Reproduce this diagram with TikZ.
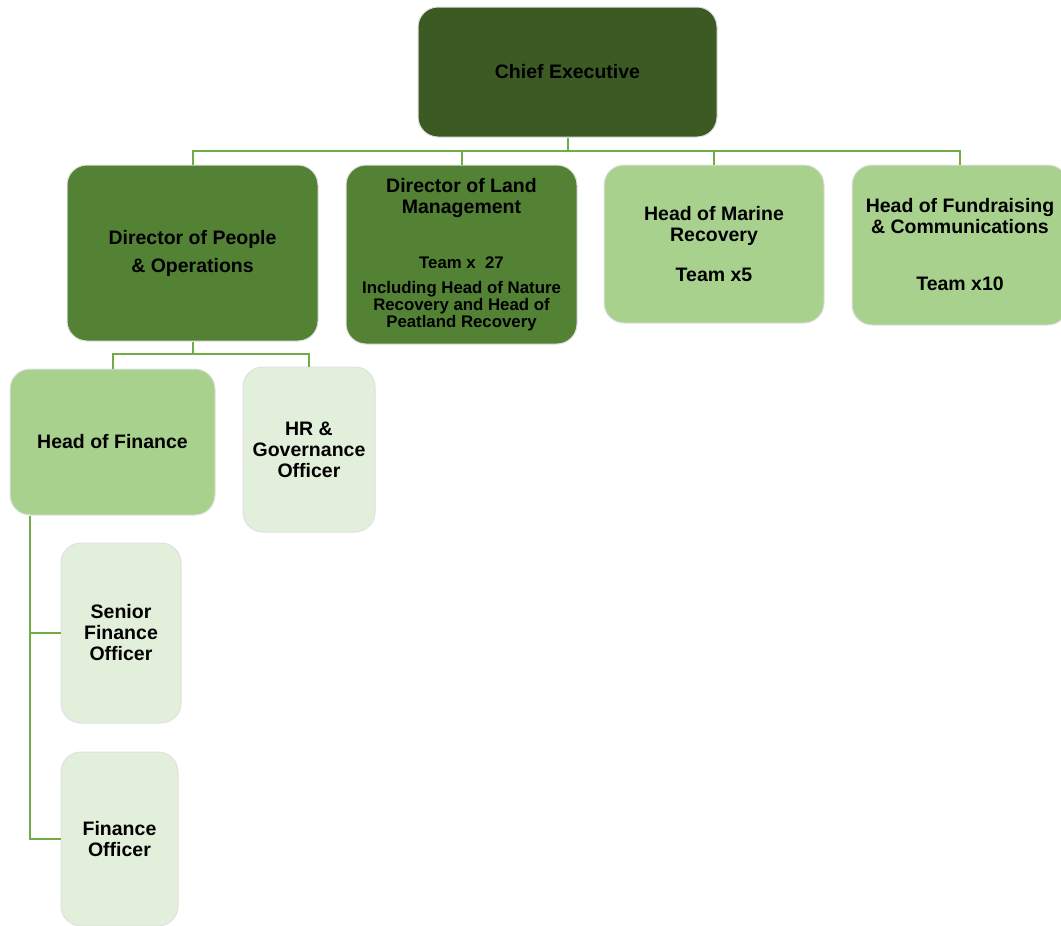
\documentclass[tikz,border=0pt]{standalone}
\usepackage{fontspec}
\setmainfont{Liberation Sans}
\definecolor{cedark}{RGB}{59,90,36}
\definecolor{dirgreen}{RGB}{84,130,53}
\definecolor{headgreen}{RGB}{169,209,142}
\definecolor{palegreen}{RGB}{226,239,218}
\definecolor{linegreen}{RGB}{112,173,71}
\tikzset{
  box/.style={rectangle, rounded corners=20pt, draw=black!12, line width=1pt,
    align=center, inner sep=0pt, font=\bfseries\fontsize{19.5}{21}\selectfont},
  link/.style={draw=linegreen, line width=2pt}
}
\newcommand{\smalltxt}{\fontsize{16.8}{17}\selectfont}
\begin{document}
\begin{tikzpicture}[x=1pt,y=-1pt]
    \useasboundingbox (0,0) rectangle (1061,926);

    % top level
    \node[box, fill=cedark, minimum width=299pt, minimum height=130pt] (ce) at (567.5,72) {Chief Executive};

    % second row
    \node[box, fill=dirgreen, minimum width=251pt, minimum height=176pt] (dpo) at (192.5,253)
        {Director of People\\[7pt] \& Operations};
    \node[box, fill=dirgreen, minimum width=231pt, minimum height=179pt] (dlm) at (461.5,254.5)
        {Director of Land\\Management\\[34pt] {\smalltxt Team x\ \ 27}\\[4pt]
         {\smalltxt Including Head of Nature}\\[-4pt] {\smalltxt Recovery and Head of}\\[-4pt] {\smalltxt Peatland Recovery}};
    \node[box, fill=headgreen, minimum width=220pt, minimum height=158pt] (hmr) at (714,244)
        {Head of Marine\\Recovery\\[19pt] Team x5};
    \node[box, fill=headgreen, minimum width=216pt, minimum height=160pt] (hfc) at (960,245)
        {Head of Fundraising\\\& Communications\\[36pt] Team x10};

    % under people & operations
    \node[box, fill=headgreen, minimum width=205pt, minimum height=146pt] (hof) at (112.5,442) {Head of Finance};
    \node[box, fill=palegreen, minimum width=132pt, minimum height=165pt] (hrg) at (309,449.5)
        {HR \&\\Governance\\Officer};
    \node[box, fill=palegreen, minimum width=120pt, minimum height=180pt] (sfo) at (121,633)
        {Senior\\Finance\\Officer};
    \node[box, fill=palegreen, minimum width=117pt, minimum height=174pt] (fo) at (119.5,839)
        {Finance\\Officer};

    % connectors
    \path (ce.south) ++(0,13) coordinate (cebus);
    \draw[link] (ce.south) -- (cebus);
    \foreach \n in {dpo,dlm,hmr,hfc}
        \draw[link] (cebus) -| (\n.north);

    \path (dpo.south) ++(0,12) coordinate (dpobus);
    \draw[link] (dpo.south) -- (dpobus);
    \draw[link] (dpobus) -| (hof.north);
    \draw[link] (dpobus) -| (hrg.north);

    \coordinate (hofspine) at ([xshift=20pt]hof.south west);
    \draw[link] (hofspine) |- (sfo.west);
    \draw[link] (hofspine) |- (fo.west);
\end{tikzpicture}
\end{document}
